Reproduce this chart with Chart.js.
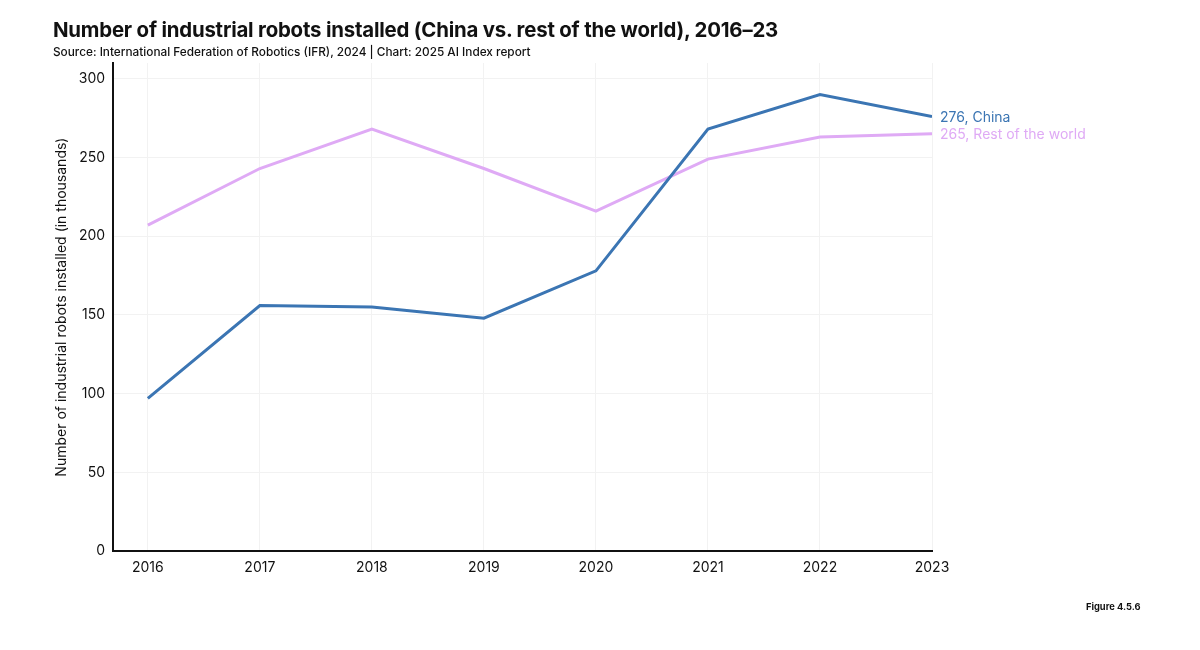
<!DOCTYPE html>
<html>
<head>
<meta charset="utf-8">
<script src="https://cdn.jsdelivr.net/npm/chart.js@4"></script>
<style>
  html, body { margin: 0; padding: 0; background: #fff; }
  #wrap { position: relative; width: 1200px; height: 650px; font-family: Inter, "Noto Sans", sans-serif; }
  #title { position: absolute; left: 53px; top: 17px; font-size: 20.4px; font-weight: 700; color: #111; letter-spacing: -0.2px; }
  #sub { position: absolute; left: 53px; top: 45px; font-size: 11.8px; font-weight: 500; color: #111; }
  #fig { position: absolute; left: 1086px; top: 601px; font-size: 9.3px; font-weight: 700; color: #111; }
  canvas { position: absolute; left: 0; top: 0; }
</style>
</head>
<body>
<div id="wrap">
  <canvas id="c" width="1200" height="650"></canvas>
  <div id="title">Number of industrial robots installed (China vs. rest of the world), 2016–23</div>
  <div id="sub">Source: International Federation of Robotics (IFR), 2024 | Chart: 2025 AI Index report</div>
  <div id="fig">Figure 4.5.6</div>
</div>
<script>
const years = [2016, 2017, 2018, 2019, 2020, 2021, 2022, 2023];
const china = [97, 156, 155, 148, 178, 268, 290, 276];
const restOfWorld = [207, 243, 268, 243, 216, 249, 263, 265];
const yTicks = [0, 50, 100, 150, 200, 250, 300];
const seriesNames = ["China", "Rest of the world"];
const seriesColors = ["#3b75b3", "#dfaaf5"];

const endLabels = {
  id: 'endLabels',
  afterDatasetsDraw(chart) {
    const ctx = chart.ctx;
    ctx.save();
    ctx.font = '14px Inter, "Noto Sans", sans-serif';
    ctx.textBaseline = 'middle';
    ctx.textAlign = 'left';
    chart.data.datasets.forEach((ds, i) => {
      const meta = chart.getDatasetMeta(i);
      const pt = meta.data[meta.data.length - 1];
      const v = ds.data[ds.data.length - 1].y;
      ctx.fillStyle = ds.borderColor;
      ctx.fillText(v + ', ' + ds.label, pt.x + 8, pt.y + 1);
    });
    ctx.restore();
  }
};

const toXY = arr => arr.map((v, i) => ({ x: years[i], y: v }));

new Chart(document.getElementById('c'), {
  type: 'line',
  data: {
    datasets: [
      { label: seriesNames[0], data: toXY(china), borderColor: seriesColors[0], borderWidth: 3, pointRadius: 0, tension: 0 },
      { label: seriesNames[1], data: toXY(restOfWorld), borderColor: seriesColors[1], borderWidth: 3, pointRadius: 0, tension: 0 }
    ]
  },
  options: {
    responsive: false,
    animation: false,
    layout: { padding: { top: 63, right: 268, bottom: 66, left: 53 } },
    plugins: { legend: { display: false }, tooltip: { enabled: false } },
    scales: {
      x: {
        type: 'linear',
        min: 2015.69,
        max: 2023,
        afterBuildTicks: s => { s.ticks = years.map(v => ({ value: v })); },
        ticks: { color: '#111', font: { family: 'Inter', size: 14 }, padding: 8, callback: v => String(v), maxRotation: 0, autoSkip: false },
        grid: { color: '#f2f2f2', drawTicks: false, lineWidth: 1 },
        border: { color: '#111', width: 2 }
      },
      y: {
        min: 0,
        max: 310,
        afterBuildTicks: s => { s.ticks = yTicks.map(v => ({ value: v })); },
        ticks: { color: '#111', font: { family: 'Inter', size: 14 }, padding: 8 },
        grid: { color: '#f2f2f2', drawTicks: false, lineWidth: 1 },
        border: { color: '#111', width: 2 },
        title: { display: true, text: 'Number of industrial robots installed (in thousands)', color: '#111', font: { family: 'Inter', size: 14 }, padding: { top: 0, bottom: 1 } }
      }
    }
  },
  plugins: [endLabels]
});
</script>
</body>
</html>
